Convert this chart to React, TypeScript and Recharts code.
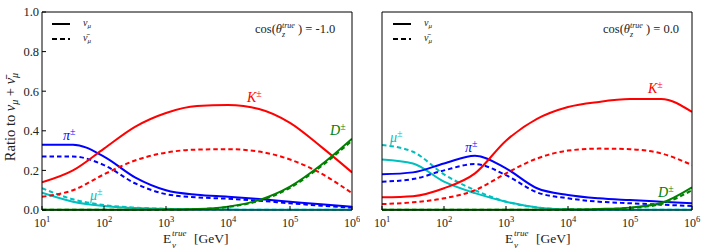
import React from "react";
import { LineChart, Line, XAxis, YAxis } from "recharts";

// energies in GeV, half-decade steps from 10^1 to 10^6
const energies = [10, 31.6, 100, 316, 1000, 3162, 10000, 31623, 100000, 316228, 1000000];

// cos(theta) = -1.0
const kaonNuA = [0.14, 0.2, 0.31, 0.42, 0.49, 0.525, 0.53, 0.51, 0.44, 0.32, 0.19];
const kaonBarA = [0.067, 0.1, 0.18, 0.25, 0.29, 0.305, 0.307, 0.295, 0.255, 0.185, 0.085];
const pionNuA = [0.33, 0.33, 0.27, 0.165, 0.1, 0.077, 0.067, 0.055, 0.042, 0.029, 0.017];
const pionBarA = [0.27, 0.27, 0.227, 0.135, 0.08, 0.064, 0.057, 0.047, 0.034, 0.022, 0.012];
const muonNuA = [0.087, 0.042, 0.02, 0.01, 0.005, 0.003, 0.002, 0.001, 0.001, 0.001, 0.001];
const muonBarA = [0.11, 0.054, 0.025, 0.012, 0.006, 0.003, 0.002, 0.001, 0.001, 0.001, 0.001];
const charmNuA = [0.001, 0.001, 0.001, 0.001, 0.002, 0.005, 0.017, 0.05, 0.118, 0.227, 0.36];
const charmBarA = [0.001, 0.001, 0.001, 0.001, 0.002, 0.004, 0.015, 0.046, 0.112, 0.22, 0.35];

// cos(theta) = 0.0
const kaonNuB = [0.064, 0.07, 0.11, 0.185, 0.35, 0.46, 0.52, 0.546, 0.56, 0.561, 0.495];
const kaonBarB = [0.03, 0.039, 0.059, 0.1, 0.185, 0.26, 0.3, 0.31, 0.307, 0.286, 0.227];
const pionNuB = [0.18, 0.19, 0.235, 0.274, 0.21, 0.11, 0.076, 0.059, 0.05, 0.042, 0.034];
const pionBarB = [0.143, 0.156, 0.2, 0.232, 0.176, 0.089, 0.059, 0.042, 0.034, 0.027, 0.02];
const muonNuB = [0.255, 0.235, 0.143, 0.085, 0.042, 0.013, 0.003, 0.001, 0.001, 0.001, 0.001];
const muonBarB = [0.328, 0.294, 0.18, 0.1, 0.042, 0.013, 0.003, 0.001, 0.001, 0.001, 0.001];
const charmNuB = [0.001, 0.001, 0.001, 0.001, 0.001, 0.001, 0.002, 0.005, 0.012, 0.035, 0.114];
const charmBarB = [0.001, 0.001, 0.001, 0.001, 0.001, 0.001, 0.002, 0.004, 0.01, 0.03, 0.1];

const xTicks = [10, 100, 1000, 10000, 100000, 1000000];
const yTicks = [0, 0.2, 0.4, 0.6, 0.8, 1.0];

const FONT = "Liberation Serif, serif";
const RED = "#ff0000";
const BLUE = "#0000ff";
const CYAN = "#00bfbf";
const GREEN = "#008000";
const DASH = "4.5 3";

function buildRows(cols: Record<string, number[]>) {
  return energies.map((e, i) => {
    const row: Record<string, number> = { e };
    Object.keys(cols).forEach((k) => (row[k] = cols[k][i]));
    return row;
  });
}

const rowsA = buildRows({
  kNu: kaonNuA, kBar: kaonBarA, pNu: pionNuA, pBar: pionBarA,
  mNu: muonNuA, mBar: muonBarA, dNu: charmNuA, dBar: charmBarA,
});
const rowsB = buildRows({
  kNu: kaonNuB, kBar: kaonBarB, pNu: pionNuB, pBar: pionBarB,
  mNu: muonNuB, mBar: muonBarB, dNu: charmNuB, dBar: charmBarB,
});

const series = [
  { key: "mNu", color: CYAN, dashed: false },
  { key: "mBar", color: CYAN, dashed: true },
  { key: "pNu", color: BLUE, dashed: false },
  { key: "pBar", color: BLUE, dashed: true },
  { key: "kNu", color: RED, dashed: false },
  { key: "kBar", color: RED, dashed: true },
  { key: "dNu", color: GREEN, dashed: false },
  { key: "dBar", color: GREEN, dashed: true },
];

const LogTick = (props: any) => {
  const { x, y, payload } = props;
  const exp = Math.round(Math.log10(payload.value));
  return (
    <text x={x} y={y + 21} textAnchor="middle" fontFamily={FONT} fontSize={12} fill="#222">
      <tspan>10</tspan>
      <tspan dy={-5} fontSize={8.5}>{exp}</tspan>
    </text>
  );
};

function Panel({ rows, width, margin, yLabels }: { rows: any[]; width: number; margin: any; yLabels: boolean }) {
  return (
    <LineChart width={width} height={252} data={rows} margin={margin}>
      <XAxis
        xAxisId="b"
        dataKey="e"
        type="number"
        scale="log"
        domain={[10, 1000000]}
        allowDataOverflow
        ticks={xTicks}
        tick={<LogTick />}
        tickSize={-4}
        tickMargin={0}
        height={1}
        stroke="#000"
        interval={0}
      />
      <XAxis
        xAxisId="t"
        orientation="top"
        dataKey="e"
        type="number"
        scale="log"
        domain={[10, 1000000]}
        allowDataOverflow
        ticks={xTicks}
        tick={false}
        tickSize={-4}
        height={1}
        stroke="#000"
        interval={0}
      />
      <YAxis
        yAxisId="l"
        type="number"
        domain={[0, 1]}
        ticks={yTicks}
        tickFormatter={(v: number) => v.toFixed(1)}
        tick={yLabels ? { fontFamily: FONT, fontSize: 12.5, fill: "#222" } : false}
        tickSize={-4}
        tickMargin={7}
        width={1}
        stroke="#000"
        interval={0}
      />
      <YAxis
        yAxisId="r"
        orientation="right"
        type="number"
        domain={[0, 1]}
        ticks={yTicks}
        tick={false}
        tickSize={-4}
        width={1}
        stroke="#000"
        interval={0}
      />
      {series.map((s) => (
        <Line
          key={s.key}
          xAxisId="b"
          yAxisId="l"
          dataKey={s.key}
          type="monotone"
          stroke={s.color}
          strokeWidth={2}
          strokeDasharray={s.dashed ? DASH : undefined}
          dot={false}
          activeDot={false}
          isAnimationActive={false}
        />
      ))}
    </LineChart>
  );
}

function Legend({ x }: { x: number }) {
  return (
    <g fontFamily={FONT} fontSize={10} fill="#222" fontStyle="italic">
      <line x1={x} x2={x + 18} y1={24} y2={24} stroke="#000" strokeWidth={2} />
      <line x1={x} x2={x + 18} y1={39} y2={39} stroke="#000" strokeWidth={2} strokeDasharray="5 3" />
      <text x={x + 31} y={26}>
        ν<tspan dy={2} fontSize={7}>μ</tspan>
      </text>
      <text x={x + 31} y={41}>
        ν̄<tspan dy={2} fontSize={7}>μ</tspan>
      </text>
    </g>
  );
}

function CosLabel({ x, value }: { x: number; value: string }) {
  return (
    <g fontFamily={FONT} fontSize={12.5} fill="#222">
      <text x={x} y={33}>cos(<tspan fontStyle="italic">θ</tspan></text>
      <text x={x + 27} y={28} fontSize={8} fontStyle="italic">true</text>
      <text x={x + 27} y={37} fontSize={8} fontStyle="italic">z</text>
      <text x={x + 43} y={33}>) = {value}</text>
    </g>
  );
}

function XLabel({ x }: { x: number }) {
  return (
    <g fontFamily={FONT} fontSize={13.5} fill="#222">
      <text x={x} y={243}>E</text>
      <text x={x + 9} y={236} fontSize={9} fontStyle="italic">true</text>
      <text x={x + 9} y={248} fontSize={9} fontStyle="italic">ν</text>
      <text x={x + 31} y={243}>[GeV]</text>
    </g>
  );
}

function Tag({ x, y, color, sym }: { x: number; y: number; color: string; sym: string }) {
  return (
    <text x={x} y={y} fill={color} fontFamily={FONT} fontSize={14}>
      <tspan fontStyle="italic">{sym}</tspan>
      <tspan dy={-5} fontSize={10}>±</tspan>
    </text>
  );
}

export default function App() {
  return (
    <div style={{ position: "absolute", left: 0, top: 0, width: 706, height: 252, background: "#fff" }}>
      <div style={{ position: "absolute", left: 0, top: 0 }}>
        <Panel rows={rowsA} width={360} margin={{ top: 11, right: 7, bottom: 41, left: 41 }} yLabels />
      </div>
      <div style={{ position: "absolute", left: 350, top: 0 }}>
        <Panel rows={rowsB} width={356} margin={{ top: 11, right: 13, bottom: 41, left: 31 }} yLabels={false} />
      </div>
      <svg width={706} height={252} style={{ position: "absolute", left: 0, top: 0, pointerEvents: "none" }}>
        <text
          transform="translate(15,117) rotate(-90)"
          textAnchor="middle"
          fontFamily={FONT}
          fontSize={14.5}
          fill="#222"
        >
          Ratio to <tspan fontStyle="italic">ν</tspan>
          <tspan dy={3} fontSize={10} fontStyle="italic">μ</tspan>
          <tspan dy={-3}> + </tspan>
          <tspan fontStyle="italic">ν̄</tspan>
          <tspan dy={3} fontSize={10} fontStyle="italic">μ</tspan>
        </text>
        <Legend x={52} />
        <Legend x={393} />
        <CosLabel x={255} value="-1.0" />
        <CosLabel x={603} value="0.0" />
        <XLabel x={163} />
        <XLabel x={505} />
        <Tag x={247} y={102} color={RED} sym="K" />
        <Tag x={63} y={140} color={BLUE} sym="π" />
        <Tag x={330} y={135} color={GREEN} sym="D" />
        <Tag x={90} y={200} color={CYAN} sym="μ" />
        <Tag x={390} y={142} color={CYAN} sym="μ" />
        <Tag x={465} y={152} color={BLUE} sym="π" />
        <Tag x={648} y={93} color={RED} sym="K" />
        <Tag x={658} y={197} color={GREEN} sym="D" />
      </svg>
    </div>
  );
}
